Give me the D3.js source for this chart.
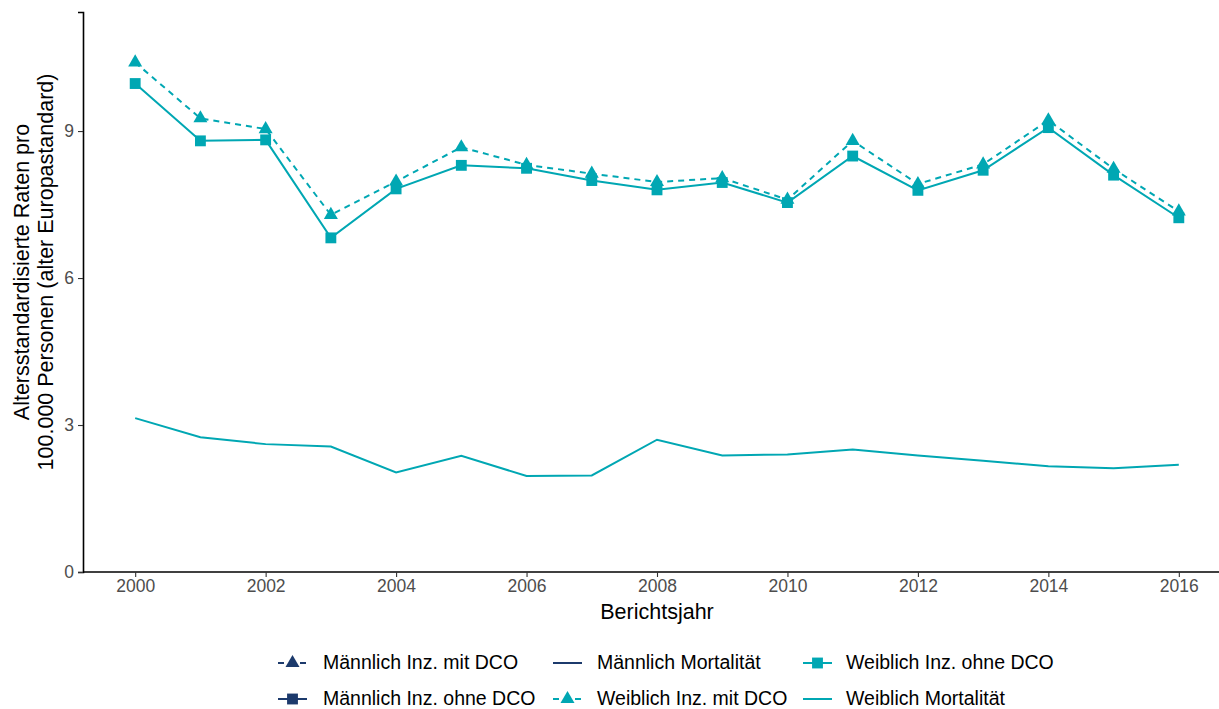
<!DOCTYPE html>
<html><head><meta charset="utf-8">
<script src="https://cdn.jsdelivr.net/npm/d3@7"></script>
<style>
html,body{margin:0;padding:0;background:#fff;}
svg{display:block;font-family:"Liberation Sans",Arial,Helvetica,sans-serif;}
</style></head>
<body><svg id="c" width="1219" height="709"></svg>
<script>
const years = [2000,2001,2002,2003,2004,2005,2006,2007,2008,2009,2010,2011,2012,2013,2014,2015,2016];
const weiblichMitDCO  = [10.40,9.26,9.04,7.29,7.97,8.67,8.31,8.13,7.96,8.04,7.60,8.80,7.92,8.32,9.22,8.23,7.36];
const weiblichOhneDCO = [9.97,8.80,8.82,6.82,7.82,8.30,8.24,7.99,7.80,7.95,7.54,8.49,7.79,8.20,9.07,8.10,7.23];
const weiblichMort    = [3.14,2.75,2.61,2.56,2.03,2.37,1.96,1.97,2.70,2.38,2.40,2.50,2.38,2.27,2.16,2.12,2.19];
const xTicks = [2000,2002,2004,2006,2008,2010,2012,2014,2016];
const yTicks = [0,3,6,9];
const legendItems = [
  {label:"Männlich Inz. mit DCO", sex:"m", dash:true, shape:"tri"},
  {label:"Männlich Mortalität", sex:"m", dash:false, shape:null},
  {label:"Weiblich Inz. ohne DCO", sex:"w", dash:false, shape:"sq"},
  {label:"Männlich Inz. ohne DCO", sex:"m", dash:false, shape:"sq"},
  {label:"Weiblich Inz. mit DCO", sex:"w", dash:true, shape:"tri"},
  {label:"Weiblich Mortalität", sex:"w", dash:false, shape:null}
];
const colM = "#1c3a6c", colW = "#00a7b3";

const svg = d3.select("#c");
const x = d3.scaleLinear().domain([1999.2, 2016.8]).range([83, 1231]);
const y = d3.scaleLinear().domain([0, 11.43]).range([572, 12]);

// axes
const gx = svg.append("g").attr("transform","translate(0,572)")
  .call(d3.axisBottom(x).tickValues(xTicks).tickFormat(d3.format("d")).tickSize(5).tickPadding(3));
const gy = svg.append("g").attr("transform","translate(83,0)")
  .call(d3.axisLeft(y).tickValues(yTicks).tickSize(5).tickPadding(4));
[gx,gy].forEach(g=>{
  g.select(".domain").attr("stroke","#000").attr("stroke-width",1.6);
  g.selectAll(".tick line").attr("stroke","#333").attr("stroke-width",1.1);
  g.selectAll(".tick text").attr("fill","#4d4d4d").style("font-size","17.5px").style("font-family","Liberation Sans, Arial, sans-serif");
});
gx.select(".domain").attr("d","M83,0H1219");

svg.append("text").attr("x",657).attr("y",619).attr("text-anchor","middle")
  .style("font-size","21.5px").attr("fill","#000").text("Berichtsjahr");
const yt = svg.append("text").attr("transform","translate(0,272) rotate(-90)").attr("text-anchor","middle")
  .style("font-size","21.5px").attr("fill","#000");
yt.append("tspan").attr("x",0).attr("y",29).text("Altersstandardisierte Raten pro");
yt.append("tspan").attr("x",0).attr("y",53).text("100.000 Personen (alter Europastandard)");

const line = d3.line().x((d,i)=>x(years[i])).y(d=>y(d));
const plot = svg.append("g");
plot.append("path").datum(weiblichMort).attr("d",line).attr("fill","none").attr("stroke",colW).attr("stroke-width",2);
plot.append("path").datum(weiblichOhneDCO).attr("d",line).attr("fill","none").attr("stroke",colW).attr("stroke-width",2);
plot.append("path").datum(weiblichMitDCO).attr("d",line).attr("fill","none").attr("stroke",colW).attr("stroke-width",2).attr("stroke-dasharray","6,5");

const tri = d3.symbol().type(d3.symbolTriangle).size(85);
const sq = d3.symbol().type(d3.symbolSquare).size(118);
plot.selectAll(".sq").data(weiblichOhneDCO).join("path").attr("d",sq)
  .attr("transform",(d,i)=>`translate(${x(years[i])},${y(d)})`).attr("fill",colW);
plot.selectAll(".tri").data(weiblichMitDCO).join("path").attr("d",tri)
  .attr("transform",(d,i)=>`translate(${x(years[i])},${y(d)})`).attr("fill",colW);

// legend
const keyX = [278,553,803], textX = [323,597,846], rowY = [663,699];
legendItems.forEach((it,i)=>{
  const c = i%3, r = Math.floor(i/3);
  const col = it.sex==="m"?colM:colW;
  const g = svg.append("g").attr("transform",`translate(${keyX[c]},${rowY[r]})`);
  g.append("line").attr("x1",0).attr("x2",29).attr("y1",0).attr("y2",0)
    .attr("stroke",col).attr("stroke-width",2).attr("stroke-dasharray",it.dash?"6,5":null);
  if(it.shape==="tri") g.append("path").attr("d",tri).attr("transform","translate(14.5,0)").attr("fill",col);
  if(it.shape==="sq") g.append("path").attr("d",sq).attr("transform","translate(14.5,0)").attr("fill",col);
  svg.append("text").attr("x",textX[c]).attr("y",rowY[r]+6).style("font-size","19.5px").attr("fill","#000").text(it.label);
});
</script></body></html>
